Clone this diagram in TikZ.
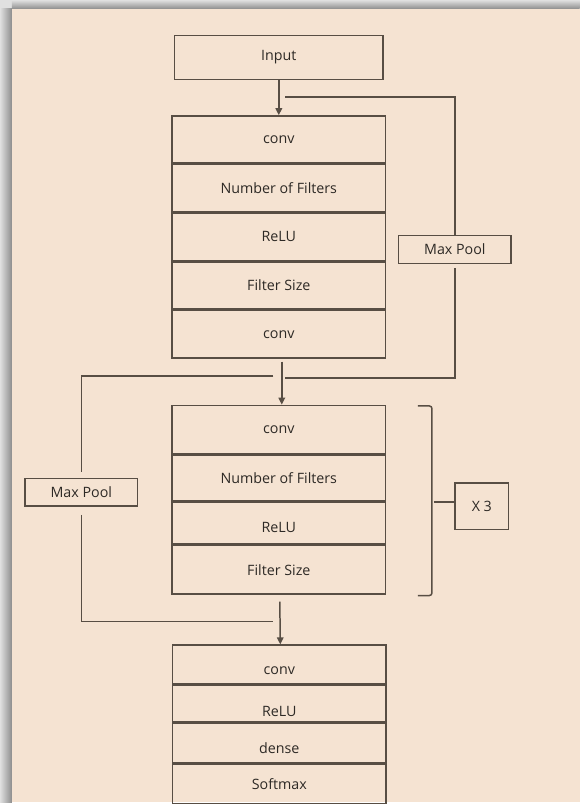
\documentclass[tikz,border=0pt]{standalone}
\usepackage{fontspec}
\setmainfont{Open Sans}
\usetikzlibrary{positioning,arrows.meta}

\definecolor{paper}{RGB}{245,227,210}
\definecolor{edge}{RGB}{88,78,68}
\definecolor{ink}{RGB}{45,41,37}

\begin{document}
\begin{tikzpicture}[x=1pt, y=-1pt, ->, >={Triangle[length=7pt,width=6.5pt]}, line width=1.5pt,
    every node/.style={font=\fontsize{14.3}{17}\selectfont, text=ink},
    layer/.style={rectangle, draw=edge, minimum width=214pt, inner sep=0pt},
    pool/.style={rectangle, draw=edge, minimum width=113pt, minimum height=28pt, inner sep=0pt}]

    % Background
    \fill[black!12] (0,0) rectangle (581,804);
    \shade[left color=black!12, right color=black!45] (0,9) rectangle (12,804);
    \shade[top color=black!12, bottom color=black!45] (12,0) rectangle (581,9);
    \fill[paper] (12,9) rectangle (581,804);

    % Nodes
    \node[layer, minimum width=209pt, minimum height=44pt] (input) at (279.5,57.5) {Input};

    \node[layer, minimum height=47.3pt, anchor=north] (a1) at (279.5,115.5) {conv};
    \node[layer, minimum height=47.3pt, below=0pt of a1] (a2) {Number of Filters};
    \node[layer, minimum height=47.3pt, below=0pt of a2] (a3) {ReLU};
    \node[layer, minimum height=47.3pt, below=0pt of a3] (a4) {Filter Size};
    \node[layer, minimum height=47.3pt, below=0pt of a4] (a5) {conv};

    \node[layer, minimum height=48.6pt, anchor=north] (b1) at (279.5,405.7) {conv};
    \node[layer, minimum height=45pt, below=0pt of b1] (b2) {Number of Filters};
    \node[layer, minimum height=42.4pt, below=0pt of b2, text height=20pt, text depth=0pt] (b3) {ReLU};
    \node[layer, minimum height=48.3pt, below=0pt of b3] (b4) {Filter Size};

    \node[layer, minimum height=39pt, anchor=north, text height=19pt, text depth=0pt] (c1) at (280,646) {conv};
    \node[layer, minimum height=36pt, below=0pt of c1, text height=26pt, text depth=0pt] (c2) {ReLU};
    \node[layer, minimum height=40pt, below=0pt of c2, text height=21pt, text depth=0pt] (c3) {dense};
    \node[layer, minimum height=39pt, below=0pt of c3] (c4) {Softmax};

    \node[pool] (mp1) at (456,250) {Max Pool};
    \node[pool] (mp2) at (81.5,493.5) {Max Pool};
    \node[layer, minimum width=54pt, minimum height=47pt] (rep) at (483,507.5) {X 3};

    % Skip ends
    \coordinate (in1) at (286,97);
    \coordinate (out1) at (286,379);
    \coordinate (in2) at (274,377);
    \coordinate (out2) at (274,623);
    \coordinate (tip) at (435,503);

    % Main flow
    \draw[edge] (input.south) -- (input.south |- a1.north);
    \draw[edge] ([xshift=3pt,yshift=-3pt]a5.south) -- ([xshift=3pt]b1.north);
    \draw[edge] ([xshift=1pt,yshift=-7pt]b4.south) -- ([xshift=1pt]c1.north);

    % Max pool branches
    \draw[edge, -] (in1) -| (mp1.north);
    \draw[edge, -] ([yshift=-4pt]mp1.south) |- (out1);
    \draw[edge, -] (in2) -| ([yshift=6pt]mp2.north);
    \draw[edge, -] ([yshift=-8pt]mp2.south) |- (out2);

    % Repeat bracket
    \draw[edge, -, rounded corners=2.5pt] (419,407) -- (433,407) -- (433,597) -- (419,597);
    \draw[edge, -] (tip) -- (tip -| rep.west);

\end{tikzpicture}
\end{document}
